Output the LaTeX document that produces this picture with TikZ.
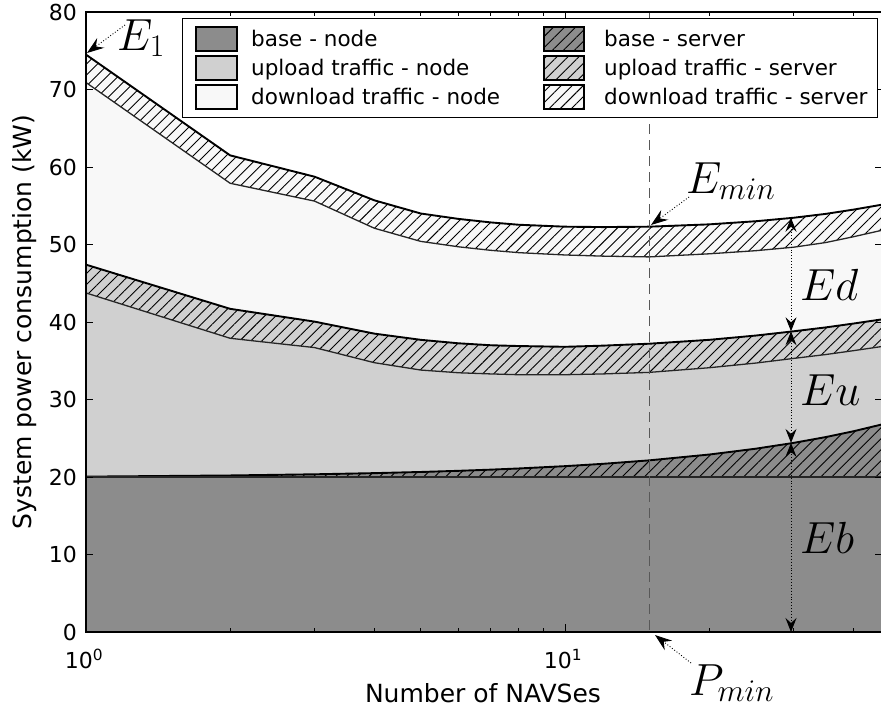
\documentclass[tikz,border=0pt]{standalone}
\usepackage{fix-cm}
\usepackage[no-math]{fontspec}
\newfontfamily\dejavu{DejaVu Sans}
\usetikzlibrary{arrows.meta,patterns.meta}

\definecolor{basegray}{HTML}{8C8C8C}
\definecolor{upgray}{HTML}{D0D0D0}
\definecolor{downgray}{HTML}{F8F8F8}
\definecolor{refgray}{HTML}{585858}

% stacked layer tops (kW) at n = 1:
% base server / upload node / upload server / download node / download server
\def\firstpt{20.05/43.75/47.40/70.90/74.50}
% n / the same five stacked tops for the remaining numbers of NAVSes
\def\curvedata{%
 2/20.20/37.90/41.70/57.90/61.50,
 3/20.35/36.70/40.05/55.60/58.75,
 4/20.50/34.75/38.50/52.10/55.70,
 5/20.65/33.80/37.70/50.40/54.00,
 6/20.80/33.45/37.25/49.70/53.30,
 7/20.95/33.30/37.00/49.25/52.85,
 8/21.10/33.20/36.90/48.95/52.55,
 10/21.40/33.20/36.80/48.65/52.30,
 12/21.70/33.30/36.95/48.50/52.25,
 15/22.15/33.50/37.20/48.40/52.30,
 20/22.90/34.10/37.70/48.80/52.60,
 25/23.65/34.70/38.25/49.20/53.00,
 30/24.40/35.30/38.80/49.65/53.45,
 35/25.15/35.80/39.30/50.25/53.95,
 40/25.90/36.30/39.80/51.00/54.50,
 46/26.80/36.85/40.35/51.85/55.15}

% area below one stacked boundary (x: log axis, y: kW)
\newcommand\fillunder[3]{%
  \fill[#1] (86,632) -- (86,{632-7.75*#2})
    \foreach \nn/\vA/\vB/\vC/\vD/\vE in \curvedata
      {-- ({86+479*log10(\nn)},{632-7.75*#3})}
    -- (890,632) -- cycle;}
% one stacked boundary as a line
\newcommand\topedge[3]{%
  \draw[#1] (86,{632-7.75*#2})
    \foreach \nn/\vA/\vB/\vC/\vD/\vE in \curvedata
      {-- ({86+479*log10(\nn)},{632-7.75*#3})};}

\begin{document}
\begin{tikzpicture}[x=1pt,y=-1pt,
  hatch/.style={pattern={Lines[angle=45,distance=7.8pt,line width=0.9pt]},pattern color=black},
  serveredge/.style={line width=1.9pt,line join=round,black},
  nodeedge/.style={line width=1.3pt,line join=round,black!85},
  tickline/.style={line width=1pt,black},
  ticklabel/.style={inner sep=0pt,font=\dejavu\fontsize{22}{26}\selectfont},
  axistitle/.style={inner sep=0pt,font=\dejavu\fontsize{25}{30}\selectfont},
  legendtext/.style={inner sep=0pt,anchor=base west,font=\dejavu\fontsize{21.5}{26}\selectfont},
  patchbox/.style={line width=1.8pt,black},
  mathlabel/.style={inner sep=0pt,anchor=base west,font=\fontsize{45}{54}\selectfont},
  annot/.style={dotted,line width=0.9pt,-{Stealth[length=17pt,width=12pt,inset=6pt]}},
  dimarrow/.style={dotted,line width=0.9pt,{Stealth[length=14pt,width=11pt,inset=5pt]}-{Stealth[length=14pt,width=11pt,inset=5pt]}}]
\useasboundingbox (0,0) rectangle (881,713);

% stacked areas
\begin{scope}
  \clip (86,12) rectangle (881,632);
  \fillunder{downgray}{74.50}{\vE}
  \fillunder{hatch}{74.50}{\vE}
  \fillunder{downgray}{70.90}{\vD}
  \fillunder{upgray}{47.40}{\vC}
  \fillunder{hatch}{47.40}{\vC}
  \fillunder{upgray}{43.75}{\vB}
  \fillunder{basegray}{20.05}{\vA}
  \fillunder{hatch}{20.05}{\vA}
  \fill[basegray] (86,477) rectangle (890,632);
  \topedge{serveredge}{74.50}{\vE}
  \topedge{nodeedge}{70.90}{\vD}
  \topedge{serveredge}{47.40}{\vC}
  \topedge{nodeedge}{43.75}{\vB}
  \topedge{serveredge}{20.05}{\vA}
  \draw[nodeedge] (86,477) -- (890,477);
  % optimum number of NAVSes
  \draw[refgray,line width=1.5pt,dash pattern=on 10pt off 6pt] (649.4,12) -- (649.4,632);
\end{scope}

% axes frame and ticks
\draw[line width=1.2pt] (882,12) -- (86,12) -- (86,632) -- (882,632);
\foreach \v in {0,10,...,80}{
  \draw[tickline] (86,{632-7.75*\v}) -- ++(7,0);
  \draw[tickline] (882,{632-7.75*\v}) -- ++(-7,0);
  \node[ticklabel,anchor=east] (ylab\v) at (77,{632-7.75*\v}) {\v};
}
\foreach \n in {2,...,9,20,30,40}{
  \draw[tickline] ({86+479*log10(\n)},632) -- ++(0,-4);
  \draw[tickline] ({86+479*log10(\n)},12) -- ++(0,4);
}
\draw[tickline] (565,632) -- ++(0,-8);
\draw[tickline] (565,12) -- ++(0,8);
\node[ticklabel,anchor=base] (xlab0) at (84,668) {10\textsuperscript{0}};
\node[ticklabel,anchor=base] (xlab1) at (563,668) {10\textsuperscript{1}};
\node[axistitle,anchor=base] (xtitle) at (483,702) {Number of NAVSes};
\node[axistitle,anchor=base,rotate=90] (ytitle) at (31,322) {System power consumption (kW)};

% legend
\draw[line width=1pt,fill=white] (182,18) rectangle (877,117);
\draw[patchbox,fill=basegray] (196,27) rectangle (237,51);
\draw[patchbox,fill=upgray] (196,56) rectangle (237,80);
\draw[patchbox,fill=downgray] (196,85) rectangle (237,109);
\draw[patchbox,fill=basegray] (544,27) rectangle (584,51);
\fill[hatch] (544,27) rectangle (584,51);
\draw[patchbox,fill=upgray] (544,56) rectangle (584,80);
\fill[hatch] (544,56) rectangle (584,80);
\draw[patchbox,fill=downgray] (544,85) rectangle (584,109);
\fill[hatch] (544,85) rectangle (584,109);
\node[legendtext] (lg1) at (251,46) {base - node};
\node[legendtext] (lg2) at (251,75) {upload traffic - node};
\node[legendtext] (lg3) at (251,104) {download traffic - node};
\node[legendtext] (lg4) at (604,46) {base - server};
\node[legendtext] (lg5) at (604,75) {upload traffic - server};
\node[legendtext] (lg6) at (604,104) {download traffic - server};

% annotations
\node[mathlabel] (E1) at (117,50) {$E_1$};
\coordinate (E1tail) at (125,25);
\coordinate (E1tip) at (87,53);
\draw[annot] (E1tail) -- (E1tip);

\node[mathlabel] (Emin) at (686,193) {$E_{min}$};
\coordinate (Emintail) at (689,197);
\coordinate (Emintip) at (651,225);
\draw[annot] (Emintail) -- (Emintip);

\node[mathlabel] (Pmin) at (689,695) {$P_{min}$};
\coordinate (Pmintail) at (691,663);
\coordinate (Pmintip) at (655,635);
\draw[annot] (Pmintail) -- (Pmintip);

\coordinate (dtop) at (791,{632-7.75*53.45});
\coordinate (utop) at (791,{632-7.75*38.8});
\coordinate (btop) at (791,{632-7.75*24.4});
\coordinate (zero) at (791,632);
\draw[dimarrow] (dtop) -- (utop);
\draw[dimarrow] (utop) -- (btop);
\draw[dimarrow] (btop) -- (zero);
\node[mathlabel] (Ed) at (800,300) {$Ed$};
\node[mathlabel] (Eu) at (800,405) {$Eu$};
\node[mathlabel] (Eb) at (800,553) {$Eb$};
\end{tikzpicture}
\end{document}
